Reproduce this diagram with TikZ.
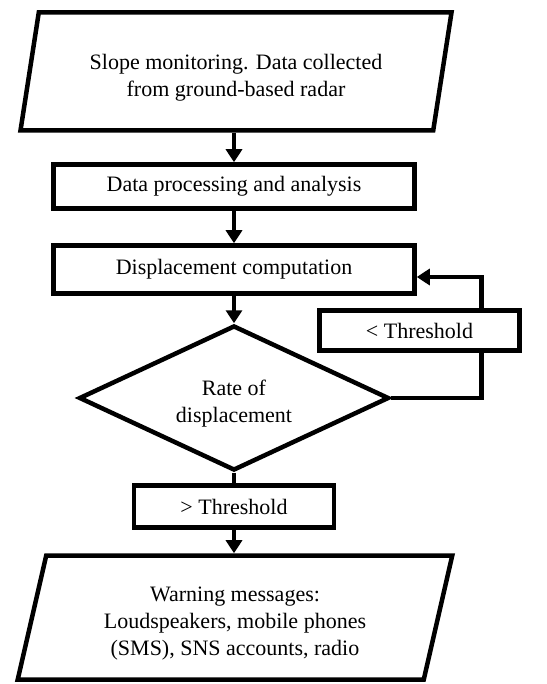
\documentclass[tikz,border=0pt]{standalone}
\usepackage{fontspec}
\setmainfont{Liberation Serif}
\usetikzlibrary{shapes.geometric,arrows.meta}
\newcommand{\vniz}{\rule{0pt}{27pt}}
\begin{document}
\begin{tikzpicture}[ x = 1pt, y = -1pt,
        every node/.style = { font = \fontsize{22}{27}\selectfont, align = center },
        blok/.style = { draw, rectangle, line width = 4.5pt, inner sep = 0pt, fill = white },
        vvod/.style = { draw, trapezium, trapezium left angle = 77, trapezium right angle = 103,
                        trapezium stretches = true, line width = 4.5pt, inner sep = 0pt },
        romb/.style = { draw, diamond, aspect = 2.1, line width = 4.5pt, inner sep = 0pt },
        liniya/.style = { line width = 4.5pt },
        strelka/.style = { liniya, -{Triangle[ width = 16pt, length = 13pt ]} } ]

        \useasboundingbox ( 0, 0 ) rectangle ( 546, 684 );

        % данные радара
        \node [ vvod, minimum width = 433pt, minimum height = 118pt ] (radar) at ( 236, 71.5 )
                {\vniz Slope monitoring. Data collected\\from ground-based radar};

        % обработка
        \node [ blok, minimum width = 361pt, minimum height = 44pt ] (obrab) at ( 234, 186.5 )
                {Data processing and analysis};

        % смещение
        \node [ blok, minimum width = 361pt, minimum height = 48pt ] (smesch) at ( 234, 269.5 )
                {Displacement computation};

        % скорость смещения
        \node [ romb, minimum width = 310pt, minimum height = 145pt ] (skorost) at ( 234, 398 )
                {\vniz Rate of\\displacement};

        % больше порога
        \node [ blok, minimum width = 200pt, minimum height = 42pt ] (bolshe) at ( 234, 506.5 )
                {> Threshold};

        % оповещение
        \node [ vvod, minimum width = 435pt, minimum height = 124pt ] (opoveshch) at ( 235, 617.5 )
                {\vniz Warning messages:\\Loudspeakers, mobile phones\\(SMS), SNS accounts, radio};

        % стрелки
        \draw [strelka] (obrab.north |- radar.south) -- (obrab.north);
        \draw [strelka] (obrab.south) -- (smesch.north);
        \draw [strelka] (smesch.south) -- (skorost.north);
        \draw [liniya] (skorost.south) -- (bolshe.north);
        \draw [strelka] (bolshe.south) -- (bolshe.south |- opoveshch.north);

        % возврат
        \coordinate (vozvrat) at ([yshift = -7.5pt] smesch.east);
        \draw [strelka] (skorost.east) -- ++( 90, 0 ) |- (vozvrat);

        % меньше порога
        \node [ blok, minimum width = 200pt, minimum height = 40pt ] (menshe) at ( 419.5, 330.5 )
                {< Threshold};
\end{tikzpicture}
\end{document}
